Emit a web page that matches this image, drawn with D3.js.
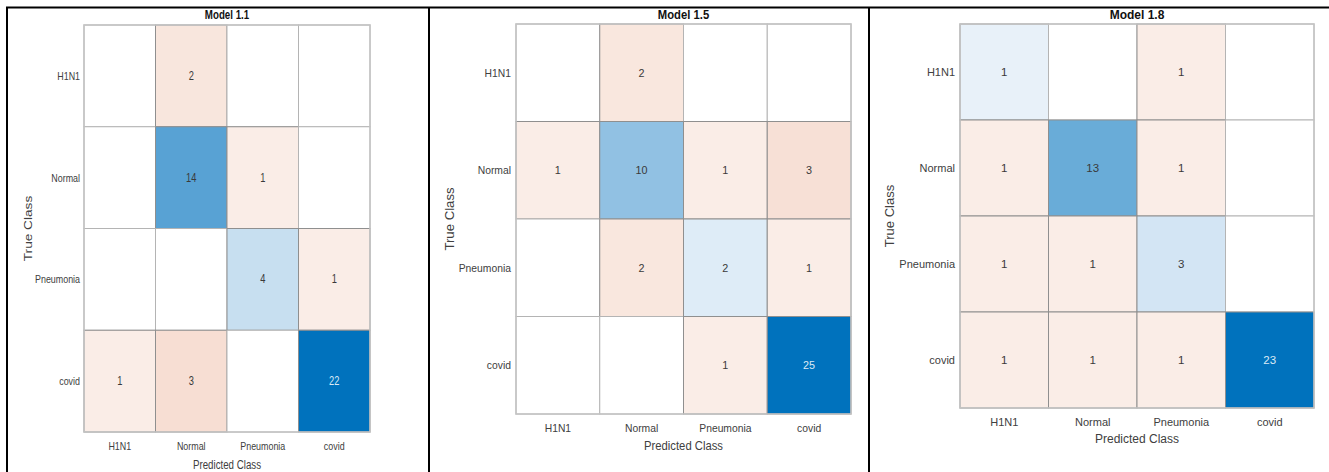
<!DOCTYPE html>
<html>
<head>
<meta charset="utf-8">
<script src="https://cdn.jsdelivr.net/npm/d3@7"></script>
<style>
  body { margin: 0; background: #fff; }
  svg { display: block; font-family: "Liberation Sans", Arial, sans-serif; }
</style>
</head>
<body>
<svg id="chart" width="1329" height="472"></svg>
<script>
// class names, same on both axes
var classes = ["H1N1", "Normal", "Pneumonia", "covid"];
var titles = ["Model 1.1", "Model 1.5", "Model 1.8"];

// confusion matrices, rows = true class, cols = predicted class (0 = empty cell)
var model11 = [
  [0, 2, 0, 0],
  [0, 14, 1, 0],
  [0, 0, 4, 1],
  [1, 3, 0, 22]
];
var model15 = [
  [0, 2, 0, 0],
  [1, 10, 1, 3],
  [0, 2, 2, 1],
  [0, 0, 1, 25]
];
var model18 = [
  [1, 0, 1, 0],
  [1, 13, 1, 0],
  [1, 1, 3, 0],
  [1, 1, 1, 23]
];
var matrices = [model11, model15, model18];

// panel layout (grid box, label offsets, stretch of the source image)
var layout = [
  { x0: 84, x1: 370, y0: 25, y1: 432, rowLab: 80, colLab: 446, xTitle: 464.5, yTitle: 28, sx: 0.81, sy: 1.05 },
  { x0: 516, x1: 851, y0: 24, y1: 414, rowLab: 511, colLab: 427.5, xTitle: 445, yTitle: 450, sx: 0.94, sy: 1.015 },
  { x0: 960, x1: 1314, y0: 24, y1: 408, rowLab: 955, colLab: 422, xTitle: 438, yTitle: 889, sx: 1.0, sy: 1.0 }
];

var svg = d3.select("#chart");

// panel frame lines
var frame = svg.append("g").attr("stroke", "#000").attr("stroke-width", 2);
frame.append("line").attr("x1", 6).attr("x2", 1329).attr("y1", 7.5).attr("y2", 7.5);
[7, 429, 869].forEach(function (x) {
  frame.append("line").attr("x1", x).attr("x2", x).attr("y1", 7).attr("y2", 472);
});

function squeezedText(g, x, y, L, str) {
  return g.append("text")
    .attr("transform", "translate(" + x + "," + y + ") scale(" + L.sx + "," + L.sy + ")")
    .text(str);
}

matrices.forEach(function (m, p) {
  var L = layout[p];
  var g = svg.append("g");
  var maxVal = d3.max(m, function (r) { return d3.max(r); });

  var x = d3.scaleBand().domain(classes).range([L.x0, L.x1]);
  var y = d3.scaleBand().domain(classes).range([L.y0, L.y1]);

  var diagColor = d3.scaleLinear().domain([0, 1, maxVal]).range(["#ffffff", "#e8f1f9", "#0072bd"]);
  var offColor = d3.scaleLinear().domain([0, 1, maxVal]).range(["#ffffff", "#faede7", "#d95319"]);

  var cells = [];
  m.forEach(function (row, i) {
    row.forEach(function (v, j) {
      cells.push({ t: classes[i], p: classes[j], v: v, diag: i === j });
    });
  });

  g.selectAll("rect.cell").data(cells).enter().append("rect")
    .attr("class", "cell")
    .attr("x", function (d) { return x(d.p); })
    .attr("y", function (d) { return y(d.t); })
    .attr("width", x.bandwidth())
    .attr("height", y.bandwidth())
    .attr("fill", function (d) { return d.diag ? diagColor(d.v) : offColor(d.v); })
    .attr("stroke", function (d) { return d.v > 0 ? "#8f8f8f" : "#b4b4b4"; })
    .attr("stroke-width", 1);

  // outer grid edge
  g.append("rect")
    .attr("x", L.x0).attr("y", L.y0)
    .attr("width", L.x1 - L.x0).attr("height", L.y1 - L.y0)
    .attr("fill", "none").attr("stroke", "#c4c4c4").attr("stroke-width", 1.5);

  // cell values
  var vals = g.append("g").attr("font-size", 11.5).attr("text-anchor", "middle");
  cells.filter(function (d) { return d.v > 0; }).forEach(function (d) {
    squeezedText(vals, x(d.p) + x.bandwidth() / 2, y(d.t) + y.bandwidth() / 2 + 4, L, d.v)
      .attr("fill", d.diag && d.v / maxVal > 0.7 ? "#dbeaf6" : "#3a3a3a");
  });

  // tick labels
  var ticks = g.append("g").attr("font-size", 11).attr("fill", "#404040");
  classes.forEach(function (c) {
    squeezedText(ticks, L.rowLab, y(c) + y.bandwidth() / 2 + 4, L, c).attr("text-anchor", "end");
    squeezedText(ticks, x(c) + x.bandwidth() / 2, L.colLab + 4, L, c).attr("text-anchor", "middle");
  });

  // axis titles
  squeezedText(g, (L.x0 + L.x1) / 2, L.xTitle + 4.5, L, "Predicted Class")
    .attr("font-size", 12).attr("fill", "#404040").attr("text-anchor", "middle");
  g.append("text")
    .attr("transform", "translate(" + L.yTitle + "," + (L.y0 + L.y1) / 2 + ") rotate(-90) scale(" + L.sy + "," + L.sx + ")")
    .attr("dy", "0.35em")
    .attr("font-size", 13).attr("fill", "#404040").attr("text-anchor", "middle")
    .text("True Class");

  // panel title
  squeezedText(g, (L.x0 + L.x1) / 2, 19, L, titles[p])
    .attr("font-size", 12).attr("font-weight", "bold").attr("fill", "#111").attr("text-anchor", "middle");
});
</script>
</body>
</html>
